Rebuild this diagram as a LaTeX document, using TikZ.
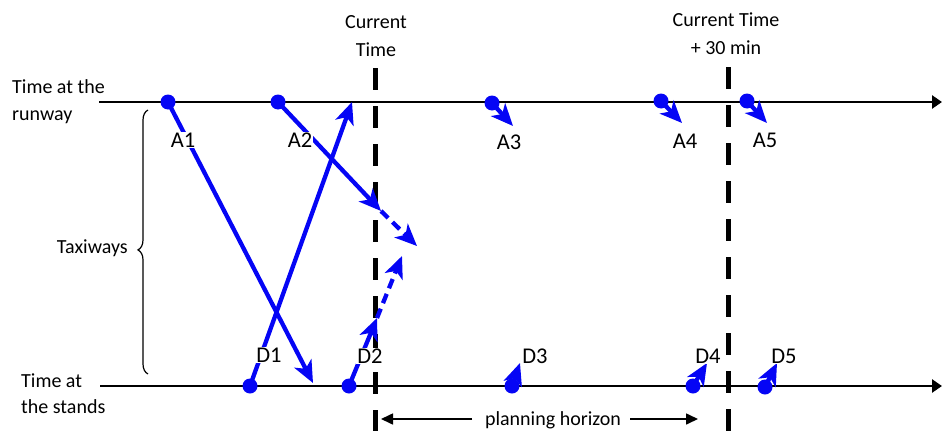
\documentclass[tikz,border=0pt]{standalone}
\usepackage{fontspec}
\setmainfont{Carlito}
\usetikzlibrary{arrows.meta,decorations.pathreplacing}
\definecolor{flowblue}{RGB}{5,5,245}
\begin{document}
\begin{tikzpicture}[x=1pt,y=-1pt,
  axis/.style={line width=2.5pt, -{Triangle[length=10pt,width=13pt]}},
  nowline/.style={line width=5pt, dash pattern=on 22pt off 16pt},
  dot/.style={circle, fill=flowblue, inner sep=0pt, minimum size=15pt},
  flow/.style={draw=flowblue, line width=4.3pt, -{Stealth[length=22pt,width=19pt,inset=6pt]}},
  future/.style={flow, dash pattern=on 10pt off 6pt},
  lab/.style={font=\fontsize{22.5}{26}\selectfont, fill=white, inner sep=1pt},
  txt/.style={font=\fontsize{20}{28}\selectfont, inner sep=0pt},
  horizon/.style={line width=1.6pt, -{Triangle[length=12pt,width=11pt]}},
  bracestyle/.style={line width=1.2pt, decorate, decoration={brace, amplitude=10pt, aspect=0.47}}]
\useasboundingbox (0,0) rectangle (942,431);

% axes
\coordinate (rwL) at (99,102);  \coordinate (rwR) at (942,102);
\coordinate (stL) at (100,386); \coordinate (stR) at (942,386);
\draw[axis] (rwL) -- (rwR);
\draw[axis] (stL) -- (stR);

% time lines
\coordinate (ctT) at (375,68);  \coordinate (ctB) at (375,431);
\coordinate (c30T) at (728,67); \coordinate (c30B) at (728,431);
\draw[nowline] (ctT) -- (ctB);
\draw[nowline] (c30T) -- (c30B);
\node[txt, align=center] (ctlab) at (376,36) {Current\\Time};
\node[txt, align=center] (c30lab) at (726,34) {Current Time\\+ 30 min};

% axis labels
\node[txt, anchor=base west] (rw1) at (12,93) {Time at the};
\node[txt, anchor=base west] (rw2) at (12,120) {runway};
\node[txt, anchor=base west] (st1) at (21,387) {Time at};
\node[txt, anchor=base west] (st2) at (21,413) {the stands};

% brace
\coordinate (brB) at (148,374); \coordinate (brT) at (148,110);
\draw[bracestyle] (brB) -- (brT);
\node[txt, anchor=base east] (taxi) at (128,253) {Taxiways};

% dots
\node[dot] (a1) at (168,102) {};
\node[dot] (a2) at (278,102) {};
\node[dot] (a3) at (492,103) {};
\node[dot] (a4) at (661,101) {};
\node[dot] (a5) at (747,101) {};
\node[dot] (d1) at (250,386) {};
\node[dot] (d2) at (349,386) {};
\node[dot] (d3) at (512,386) {};
\node[dot] (d4) at (693,386) {};
\node[dot] (d5) at (765,387) {};

% arrow ends
\coordinate (a1t) at (313,383);
\coordinate (a2t) at (381,211);
\coordinate (a2f) at (417,246);
\coordinate (d1t) at (352,102);
\coordinate (d2t) at (377,318);
\coordinate (d2f) at (402,256);
\coordinate (a3t) at (513,126);
\coordinate (a4t) at (682,123);
\coordinate (a5t) at (767,123);
\coordinate (d3t) at (520,363);
\coordinate (d4t) at (707,363);
\coordinate (d5t) at (777,363);

\draw[flow] (a1.center) -- (a1t);
\draw[flow] (d1.center) -- (d1t);
\draw[flow] (a2.center) -- (a2t);
\draw[future] (a2t) -- (a2f);
\draw[flow] (d2.center) -- (d2t);
\draw[future] (d2t) -- (d2f);
\draw[flow] (a3.center) -- (a3t);
\draw[flow] (a4.center) -- (a4t);
\draw[flow] (a5.center) -- (a5t);
\draw[flow] (d3.center) -- (d3t);
\draw[flow] (d4.center) -- (d4t);
\draw[flow] (d5.center) -- (d5t);

% labels
\node[lab] (la1) at (183,140) {A1};
\node[lab] (la2) at (300,140) {A2};
\node[lab] (la3) at (509,142) {A3};
\node[lab] (la4) at (685,141) {A4};
\node[lab] (la5) at (765,140) {A5};
\node[lab] (ld1) at (269,355) {D1};
\node[lab] (ld2) at (370,356) {D2};
\node[lab] (ld3) at (535,356) {D3};
\node[lab] (ld4) at (708,356) {D4};
\node[lab] (ld5) at (784,356) {D5};

% planning horizon
\node[txt, anchor=base] (ph) at (553,425) {planning horizon};
\coordinate (phL) at (472,419); \coordinate (phLt) at (381,419);
\coordinate (phR) at (630,419); \coordinate (phRt) at (698,419);
\draw[horizon] (phL) -- (phLt);
\draw[horizon] (phR) -- (phRt);
\end{tikzpicture}
\end{document}
